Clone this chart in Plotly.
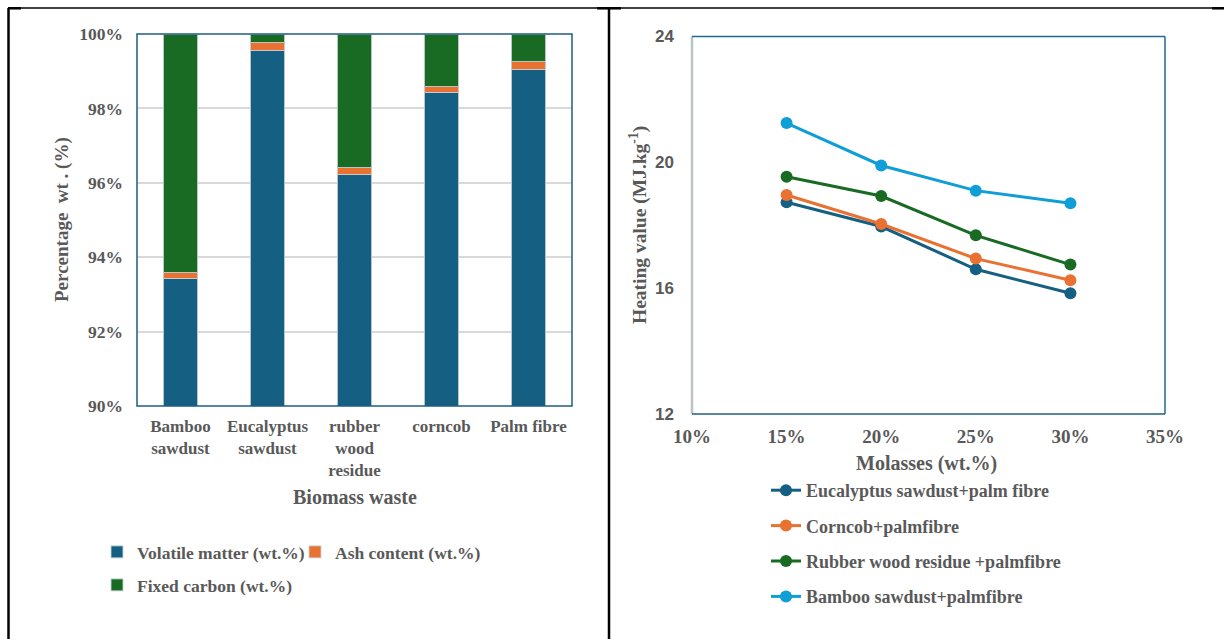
import plotly.graph_objects as go

# ---- Proximate composition of the biomass wastes (stacked to 100 %) ----
biomass = ["Bamboo<br>sawdust", "Eucalyptus<br>sawdust", "rubber<br>wood<br>residue",
           "corncob", "Palm fibre"]
volatile_matter = [93.42, 99.55, 96.22, 98.42, 99.04]
ash_content = [0.16, 0.21, 0.18, 0.16, 0.22]
fixed_carbon = [6.42, 0.24, 3.60, 1.42, 0.74]
pct_ticks = [90, 92, 94, 96, 98, 100]
pct_labels = ["90%", "92%", "94%", "96%", "98%", "100%"]

# ---- Heating value of the briquette blends against molasses share ----
molasses = [15, 20, 25, 30]
eucalyptus_palm = [18.73, 17.96, 16.60, 15.84]
corncob_palm = [18.96, 18.04, 16.94, 16.25]
rubber_palm = [19.54, 18.93, 17.68, 16.75]
bamboo_palm = [21.25, 19.90, 19.10, 18.70]
molasses_ticks = [10, 15, 20, 25, 30, 35]
molasses_labels = ["10%", "15%", "20%", "25%", "30%", "35%"]
heat_ticks = [12, 16, 20, 24]

W, H = 1224, 639
SERIF = "Liberation Serif, Times New Roman, serif"
SANS = "Liberation Sans, Arial, sans-serif"
GREY = "#595959"
BLUE = "#156082"
ORANGE = "#E97132"
GREEN = "#196B24"
CYAN = "#0F9ED5"


def px_x(p):
    return p / W


def px_y(p):
    return 1 - p / H


fig = go.Figure()

bar_edge = dict(color="rgba(200,210,215,0.9)", width=1)
fig.add_trace(go.Bar(x=biomass, y=volatile_matter, name="Volatile matter (wt.%)",
                     marker=dict(color=BLUE, line=bar_edge), showlegend=True,
                     xaxis="x", yaxis="y", legend="legend"))
fig.add_trace(go.Bar(x=biomass, y=ash_content, name="Ash content (wt.%)",
                     marker=dict(color=ORANGE, line=bar_edge), showlegend=True,
                     xaxis="x", yaxis="y", legend="legend2"))
fig.add_trace(go.Bar(x=biomass, y=fixed_carbon, name="Fixed carbon (wt.%)",
                     marker=dict(color=GREEN, line=bar_edge), showlegend=True,
                     xaxis="x", yaxis="y", legend="legend3"))

line_series = [
    ("Eucalyptus sawdust+palm fibre", eucalyptus_palm, BLUE),
    ("Corncob+palmfibre", corncob_palm, ORANGE),
    ("Rubber wood residue +palmfibre", rubber_palm, GREEN),
    ("Bamboo sawdust+palmfibre", bamboo_palm, CYAN),
]
for i, (name, vals, col) in enumerate(line_series):
    fig.add_trace(go.Scatter(x=molasses, y=vals, name=name, mode="lines+markers",
                             line=dict(color=col, width=3),
                             marker=dict(color=col, size=12),
                             legendgroup=f"g{i}", showlegend=True,
                             xaxis="x2", yaxis="y2", legend="legend4"))

tick_serif = dict(family=SERIF, size=17.5, color=GREY)
legend_font = dict(family=SERIF, size=18, color=GREY)
plain_legend = dict(bgcolor="rgba(0,0,0,0)", borderwidth=0, font=legend_font,
                    xanchor="left", yanchor="top")

fig.update_layout(
    width=W, height=H,
    margin=dict(l=0, r=0, t=0, b=0, pad=0, autoexpand=False),
    paper_bgcolor="white", plot_bgcolor="white",
    barmode="stack", bargap=0.6,
    showlegend=True,
    xaxis=dict(domain=[px_x(137), px_x(572)], anchor="y", automargin=False,
               tickfont=dict(tick_serif, size=17), showgrid=False, ticks="",
               ticklabelstandoff=8, showline=False, zeroline=False),
    yaxis=dict(domain=[px_y(406), px_y(34)], anchor="x", range=[90, 100], automargin=False,
               tickmode="array", tickvals=pct_ticks, ticktext=pct_labels,
               tickfont=tick_serif, showgrid=True, gridcolor="#D9D9D9", gridwidth=1.5,
               ticks="", ticklabelstandoff=13, showline=False, zeroline=False),
    xaxis2=dict(domain=[px_x(692), px_x(1165)], anchor="y2", range=[10, 35], automargin=False,
                tickmode="array", tickvals=molasses_ticks, ticktext=molasses_labels,
                tickfont=dict(family=SERIF, size=19, color=GREY),
                showgrid=False, ticks="", ticklabelstandoff=9,
                showline=False, zeroline=False),
    yaxis2=dict(domain=[px_y(414), px_y(36.5)], anchor="x2", range=[12, 24], automargin=False,
                tickmode="array", tickvals=heat_ticks,
                tickfont=dict(family=SANS, size=17, color=GREY, weight="bold"),
                showgrid=False, ticks="", ticklabelstandoff=17,
                showline=False, zeroline=False),
    legend=dict(plain_legend, x=px_x(97), y=px_y(534), font=dict(legend_font, size=17.5)),
    legend2=dict(plain_legend, x=px_x(295), y=px_y(534), font=dict(legend_font, size=17.5)),
    legend3=dict(plain_legend, x=px_x(97), y=px_y(567), font=dict(legend_font, size=17.5)),
    legend4=dict(plain_legend, x=px_x(766), y=px_y(472), tracegroupgap=9,
                 orientation="v"),
    font=dict(family=SERIF, color=GREY, weight="bold"),
)

# Axis titles
title_font = dict(family=SERIF, size=20, color=GREY, weight="bold")
centered = dict(xref="paper", yref="paper", showarrow=False,
                xanchor="center", yanchor="middle")
fig.add_annotation(text="Biomass waste", x=px_x(355), y=px_y(497),
                   font=title_font, **centered)
fig.add_annotation(text="Percentage\u00a0\u00a0wt\u00a0.\u00a0(%)", x=px_x(62), y=px_y(220),
                   textangle=-90, font=dict(title_font, size=19), **centered)
fig.add_annotation(text="Molasses (wt.%)", x=px_x(926), y=px_y(463),
                   font=title_font, **centered)
fig.add_annotation(text="Heating value (MJ.kg<sup>-1</sup>)", x=px_x(639), y=px_y(225),
                   textangle=-90, font=dict(title_font, size=19.5), **centered)

shapes = []
# Plot-area frame of the composition chart
shapes.append(dict(type="rect", xref="x domain", yref="y domain", x0=0, x1=1, y0=0, y1=1,
                   line=dict(color="#1F5F80", width=1.5), layer="above"))
# Plot-area frame of the heating value chart
for (x0, y0, x1, y1, col, w) in [
    (0, 0, 0, 1, "#B9C3C8", 2.5),
    (0, 1, 1, 1, "#1F6A8F", 1.5),
    (1, 0, 1, 1, "#1F6A8F", 1.5),
    (0, 0, 1, 0, "#1F5F80", 1.5),
]:
    shapes.append(dict(type="line", xref="x2 domain", yref="y2 domain",
                       x0=x0, y0=y0, x1=x1, y1=y1, line=dict(color=col, width=w),
                       layer="above"))

# Table borders around the two panels
black = "#000000"
shapes += [
    dict(type="line", xref="paper", yref="paper", x0=px_x(8), x1=1, y0=px_y(8), y1=px_y(8),
         line=dict(color=black, width=1.3)),
    dict(type="line", xref="paper", yref="paper", x0=px_x(8.5), x1=px_x(8.5), y0=px_y(8), y1=0,
         line=dict(color=black, width=2.5)),
    dict(type="line", xref="paper", yref="paper", x0=px_x(609), x1=px_x(609), y0=px_y(8), y1=0,
         line=dict(color=black, width=2.5)),
    dict(type="line", xref="paper", yref="paper", x0=px_x(8), x1=px_x(21), y0=px_y(8.3), y1=px_y(8.3),
         line=dict(color=black, width=2.5)),
    dict(type="line", xref="paper", yref="paper", x0=px_x(597), x1=px_x(621), y0=px_y(8.3), y1=px_y(8.3),
         line=dict(color=black, width=2.5)),
    dict(type="line", xref="paper", yref="paper", x0=px_x(1212), x1=1, y0=px_y(8.3), y1=px_y(8.3),
         line=dict(color=black, width=2.5)),
]
fig.update_layout(shapes=shapes)

fig.write_html("out.html")
